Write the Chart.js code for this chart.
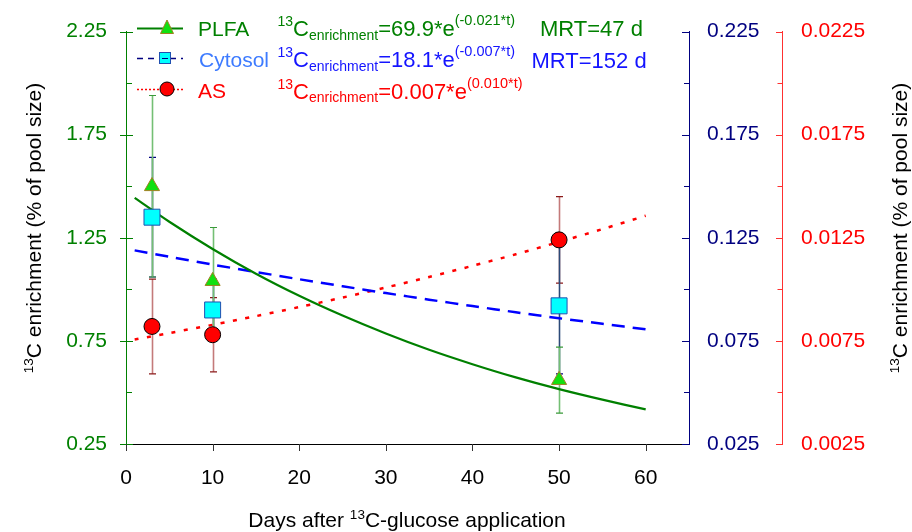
<!DOCTYPE html>
<html>
<head>
<meta charset="utf-8">
<script src="https://cdn.jsdelivr.net/npm/chart.js@4.4.1/dist/chart.umd.min.js"></script>
<style>
  html, body { margin: 0; padding: 0; background: #fff; }
  #wrap { width: 912px; height: 532px; position: relative; }
</style>
</head>
<body>
<div id="wrap"><canvas id="myChart"></canvas></div>
<script>
// measured points (days after application)
const sampleDays = [3, 10, 50];
const plfaMean = [1.50, 1.04, 0.56];
const plfaErr = [0.44, 0.26, 0.16];
const cytosolMean = [0.135, 0.090, 0.092];
const cytosolErr = [0.029, 0.015, 0.033];
const asMean = [0.0082, 0.0078, 0.0124];
const asErr = [0.0023, 0.0018, 0.0021];

// fitted curves
const fitDays = [1, 5, 10, 15, 20, 25, 30, 35, 40, 45, 50, 55, 60];
const plfaFit = [1.444, 1.328, 1.196, 1.076, 0.969, 0.873, 0.786, 0.707, 0.637, 0.573, 0.516, 0.465, 0.418];
const cytosolFit = [0.1189, 0.1158, 0.1120, 0.1084, 0.1049, 0.1015, 0.0982, 0.0950, 0.0919, 0.0889, 0.0860, 0.0833, 0.0806];
const asFit = [0.00757, 0.00788, 0.00828, 0.00870, 0.00914, 0.00960, 0.01009, 0.01060, 0.01114, 0.01170, 0.01230, 0.01292, 0.01357];

// tick labels
const xTickValues = [0, 10, 20, 30, 40, 50, 60];
const leftTickLabels = ['0.25', '0.75', '1.25', '1.75', '2.25'];
const blueTickLabels = ['0.025', '0.075', '0.125', '0.175', '0.225'];
const redTickLabels = ['0.0025', '0.0075', '0.0125', '0.0175', '0.0225'];

const FONT = "'Liberation Sans', Arial, sans-serif";
const GREEN = '#008000';
const NAVY = '#000080';
const RED = '#ff0000';

function pts(xs, ys) {
    return xs.map((x, i) => ({ x: x, y: ys[i] }));
}

function richText(ctx, parts, x, y, align) {
    let w = 0;
    parts.forEach(p => { ctx.font = p[1] + 'px ' + FONT; w += ctx.measureText(p[0]).width; });
    let cx = align === 'center' ? x - w / 2 : x;
    parts.forEach(p => {
        ctx.font = p[1] + 'px ' + FONT;
        ctx.fillText(p[0], cx, y + (p[2] || 0));
        cx += ctx.measureText(p[0]).width;
    });
}

function errorBars(ctx, xs, ys, means, errs, barColor, capColor) {
    sampleDays.forEach((d, i) => {
        const px = Math.round(xs.getPixelForValue(d)) + 0.5;
        const top = ys.getPixelForValue(means[i] + errs[i]);
        const bot = ys.getPixelForValue(means[i] - errs[i]);
        ctx.strokeStyle = barColor;
        ctx.lineWidth = 1.6;
        ctx.beginPath();
        ctx.moveTo(px, top);
        ctx.lineTo(px, bot);
        ctx.stroke();
        ctx.strokeStyle = capColor;
        ctx.lineWidth = 1.2;
        ctx.beginPath();
        ctx.moveTo(px - 3.5, top); ctx.lineTo(px + 3.5, top);
        ctx.moveTo(px - 3.5, bot); ctx.lineTo(px + 3.5, bot);
        ctx.stroke();
    });
}

function axisTicks(ctx, scale, x0, labels, digits, maj, min, color) {
    ctx.strokeStyle = color;
    ctx.lineWidth = 1;
    scale.ticks.forEach(t => {
        const y = Math.round(scale.getPixelForValue(t.value)) + 0.5;
        const r = labels.includes(t.value.toFixed(digits)) ? maj : min;
        ctx.beginPath();
        ctx.moveTo(x0 + r[0], y);
        ctx.lineTo(x0 + r[1], y);
        ctx.stroke();
    });
}

const decorPlugin = {
    id: 'decor',
    beforeDatasetsDraw(chart) {
        const ctx = chart.ctx;
        const xs = chart.scales.x;
        ctx.save();
        errorBars(ctx, xs, chart.scales.y3, asMean, asErr, '#c47a7a', '#8b1a1a');
        errorBars(ctx, xs, chart.scales.y2, cytosolMean, cytosolErr, '#2c4a78', NAVY);
        errorBars(ctx, xs, chart.scales.y, plfaMean, plfaErr, '#74bf74', '#3a9a3a');
        ctx.restore();
    },
    afterDatasetsDraw(chart) {
        const ctx = chart.ctx;
        ctx.save();
        // legend box
        ctx.fillStyle = '#fff';
        ctx.fillRect(134, 6, 520, 87);

        // PLFA row
        ctx.strokeStyle = GREEN;
        ctx.lineWidth = 2;
        ctx.beginPath(); ctx.moveTo(137, 28.5); ctx.lineTo(183, 28.5); ctx.stroke();
        ctx.fillStyle = '#11e011';
        ctx.strokeStyle = '#a08020';
        ctx.lineWidth = 1;
        ctx.beginPath();
        ctx.moveTo(167, 20); ctx.lineTo(173.5, 33.5); ctx.lineTo(160.5, 33.5); ctx.closePath();
        ctx.fill(); ctx.stroke();

        // Cytosol row
        ctx.strokeStyle = NAVY;
        ctx.lineWidth = 1.5;
        ctx.setLineDash([6, 5]);
        ctx.beginPath(); ctx.moveTo(137, 58.5); ctx.lineTo(183, 58.5); ctx.stroke();
        ctx.setLineDash([]);
        ctx.fillStyle = '#00ffff';
        ctx.strokeStyle = '#2050b0';
        ctx.lineWidth = 1;
        ctx.fillRect(159.5, 52.5, 11, 11);
        ctx.strokeRect(159.5, 52.5, 11, 11);
        ctx.strokeStyle = NAVY;
        ctx.beginPath(); ctx.moveTo(162, 58.5); ctx.lineTo(168, 58.5); ctx.stroke();

        // AS row
        ctx.strokeStyle = RED;
        ctx.lineWidth = 1.5;
        ctx.setLineDash([2, 2]);
        ctx.beginPath(); ctx.moveTo(137, 89.5); ctx.lineTo(183, 89.5); ctx.stroke();
        ctx.setLineDash([]);
        ctx.fillStyle = RED;
        ctx.strokeStyle = '#000';
        ctx.lineWidth = 1;
        ctx.beginPath(); ctx.arc(167, 89, 7, 0, Math.PI * 2); ctx.fill(); ctx.stroke();

        ctx.textBaseline = 'alphabetic';
        ctx.textAlign = 'left';
        ctx.font = '21px ' + FONT;
        ctx.fillStyle = GREEN; ctx.fillText('PLFA', 198, 36);
        ctx.fillStyle = '#3d7bff'; ctx.fillText('Cytosol', 199, 67);
        ctx.fillStyle = RED; ctx.fillText('AS', 198, 97.5);

        ctx.fillStyle = GREEN;
        richText(ctx, [['13', 14, -10], ['C', 22], ['enrichment', 14, 3.5], ['=69.9*e', 22], ['(-0.021*t)', 14.5, -11]], 277.5, 36);
        ctx.font = '22px ' + FONT;
        ctx.fillText('MRT=47 d', 540, 36);

        ctx.fillStyle = '#1414ff';
        richText(ctx, [['13', 14, -10], ['C', 22], ['enrichment', 14, 3.5], ['=18.1*e', 22], ['(-0.007*t)', 14.5, -11]], 277.5, 67);
        ctx.font = '22px ' + FONT;
        ctx.fillText('MRT=152 d', 531.5, 68);

        ctx.fillStyle = RED;
        richText(ctx, [['13', 14, -10], ['C', 22], ['enrichment', 14, 3.5], ['=0.007*e', 22], ['(0.010*t)', 14.5, -11]], 277.5, 98.5);
        ctx.restore();
    },
    afterDraw(chart) {
        const ctx = chart.ctx;
        const s = chart.scales;
        ctx.save();
        // tick marks
        axisTicks(ctx, s.y, s.y.right, leftTickLabels, 2, [-6, 7], [0, 6], GREEN);
        axisTicks(ctx, s.y2, s.y2.left, blueTickLabels, 3, [-7, 0], [-5, 0], NAVY);
        axisTicks(ctx, s.y3, s.y3.left, redTickLabels, 4, [-6, 0], [-4.5, 0], '#ff3030');
        ctx.strokeStyle = '#333';
        ctx.lineWidth = 1;
        xTickValues.forEach(v => {
            const x = Math.round(s.x.getPixelForValue(v)) + 0.5;
            ctx.beginPath(); ctx.moveTo(x, s.x.top); ctx.lineTo(x, s.x.top + 7); ctx.stroke();
        });

        // axis titles
        const title = [['13', 13.5, -8], ['C enrichment (% of pool size)', 21]];
        ctx.fillStyle = '#000';
        ctx.textBaseline = 'alphabetic';
        ctx.textAlign = 'left';
        ctx.save();
        ctx.translate(41, 228);
        ctx.rotate(-Math.PI / 2);
        richText(ctx, title, 0, 0, 'center');
        ctx.restore();
        ctx.save();
        ctx.translate(907, 228);
        ctx.rotate(-Math.PI / 2);
        richText(ctx, title, 0, 0, 'center');
        ctx.restore();
        richText(ctx, [['Days after ', 21], ['13', 13.5, -8], ['C-glucose application', 21]], 407, 527, 'center');
        ctx.restore();
    }
};

const tickFont = { family: FONT, size: 21 };

const config = {
    type: 'line',
    data: {
        datasets: [
            {
                label: 'PLFA',
                data: pts(sampleDays, plfaMean),
                yAxisID: 'y',
                showLine: false,
                pointStyle: 'triangle',
                pointRadius: 8.7,
                pointBackgroundColor: '#11e011',
                pointBorderColor: '#a08020',
                pointBorderWidth: 1,
                order: 0
            },
            {
                label: 'Cytosol',
                data: pts(sampleDays, cytosolMean),
                yAxisID: 'y2',
                showLine: false,
                pointStyle: 'rect',
                pointRadius: 11.3,
                pointBackgroundColor: '#00ffff',
                pointBorderColor: '#2050b0',
                pointBorderWidth: 1,
                order: 1
            },
            {
                label: 'AS',
                data: pts(sampleDays, asMean),
                yAxisID: 'y3',
                showLine: false,
                pointStyle: 'circle',
                pointRadius: 8,
                pointBackgroundColor: RED,
                pointBorderColor: '#000',
                pointBorderWidth: 1,
                order: 2
            },
            {
                label: 'PLFA fit',
                data: pts(fitDays, plfaFit),
                yAxisID: 'y',
                borderColor: GREEN,
                borderWidth: 2.2,
                pointRadius: 0,
                tension: 0.3,
                order: 3
            },
            {
                label: 'Cytosol fit',
                data: pts(fitDays, cytosolFit),
                yAxisID: 'y2',
                borderColor: '#0000ff',
                borderWidth: 2.5,
                borderDash: [13, 8],
                pointRadius: 0,
                tension: 0.3,
                order: 4
            },
            {
                label: 'AS fit',
                data: pts(fitDays, asFit),
                yAxisID: 'y3',
                borderColor: RED,
                borderWidth: 2.5,
                borderDash: [4, 8.5],
                pointRadius: 0,
                tension: 0.3,
                order: 5
            }
        ]
    },
    options: {
        responsive: true,
        maintainAspectRatio: false,
        animation: false,
        layout: { padding: { top: 27, left: 0, right: 0, bottom: 0 } },
        plugins: {
            legend: { display: false },
            tooltip: { enabled: false }
        },
        scales: {
            x: {
                type: 'linear',
                position: 'bottom',
                min: 0,
                max: 65,
                grid: { display: false, drawTicks: false },
                border: { color: '#000', width: 1 },
                ticks: {
                    stepSize: 10,
                    includeBounds: false,
                    autoSkip: false,
                    maxRotation: 0,
                    color: '#000',
                    font: tickFont,
                    padding: 22,
                    callback: v => xTickValues.includes(v) ? String(v) : ''
                },
                afterFit: sc => { sc.height = 88; }
            },
            y: {
                position: 'left',
                min: 0.25,
                max: 2.25,
                grid: { display: false, drawTicks: false },
                border: { color: GREEN, width: 1 },
                ticks: {
                    stepSize: 0.25,
                    color: GREEN,
                    font: tickFont,
                    padding: 19,
                    callback: v => leftTickLabels.includes(v.toFixed(2)) ? v.toFixed(2) : ''
                },
                afterFit: sc => { sc.width = 126; }
            },
            y2: {
                position: 'right',
                min: 0.025,
                max: 0.225,
                grid: { display: false, drawTicks: false },
                border: { color: NAVY, width: 1 },
                ticks: {
                    stepSize: 0.025,
                    color: NAVY,
                    font: tickFont,
                    padding: 18,
                    callback: v => blueTickLabels.includes(v.toFixed(3)) ? v.toFixed(3) : ''
                },
                afterFit: sc => { sc.width = 93; }
            },
            y3: {
                position: 'right',
                min: 0.0025,
                max: 0.0225,
                grid: { display: false, drawTicks: false },
                border: { color: '#ff3030', width: 1 },
                ticks: {
                    stepSize: 0.0025,
                    color: RED,
                    font: tickFont,
                    padding: 19,
                    callback: v => redTickLabels.includes(v.toFixed(4)) ? v.toFixed(4) : ''
                },
                afterFit: sc => { sc.width = 130; }
            }
        }
    },
    plugins: [decorPlugin]
};

const myChart = new Chart(document.getElementById('myChart'), config);
</script>
</body>
</html>
